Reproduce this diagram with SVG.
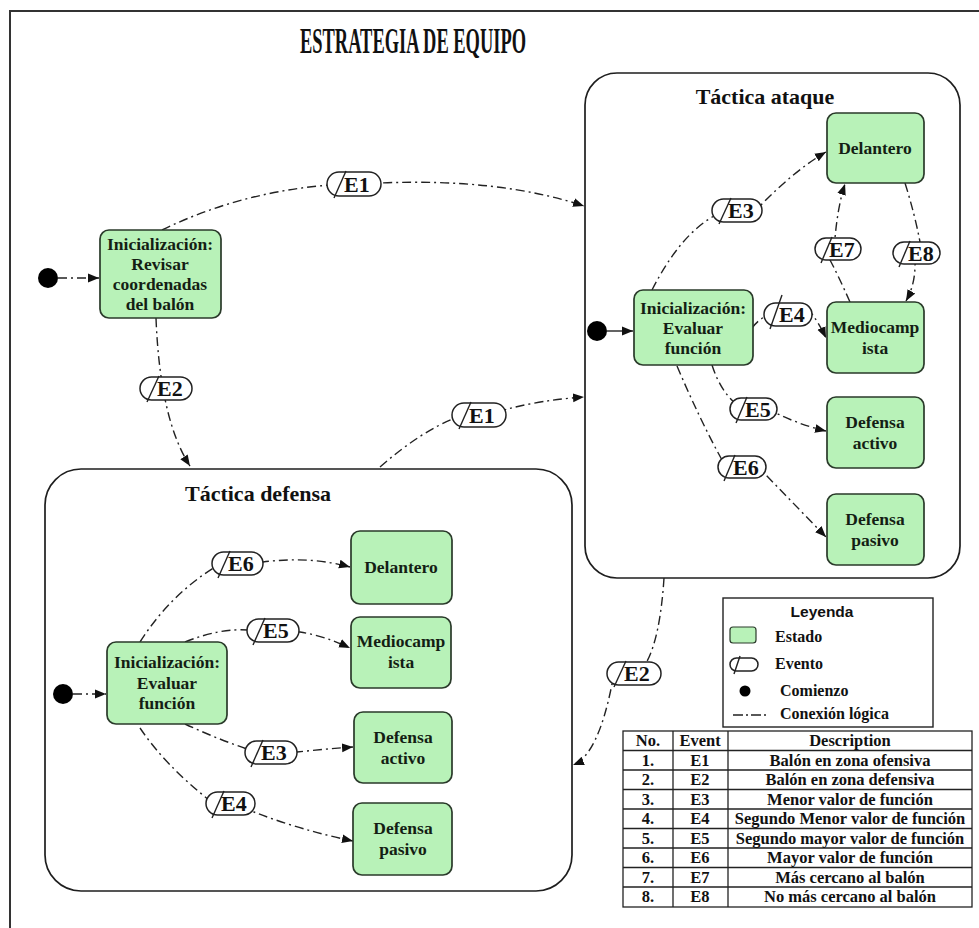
<svg xmlns="http://www.w3.org/2000/svg" width="979" height="928" viewBox="0 0 979 928">
  <style>
    .frame { fill: none; stroke: #333; stroke-width: 2; }
    .box { fill: #fff; stroke: #1e1e1e; stroke-width: 1.7; }
    .state { fill: #b8f2b8; stroke: #2a3a2a; stroke-width: 1.7; }
    .st { font-family: "Liberation Serif", serif; font-weight: bold; font-size: 17.5px; fill: #141e14; text-anchor: middle; }
    .title { font-family: "Liberation Serif", serif; font-weight: bold; font-size: 36px; fill: #111; text-anchor: middle; }
    .ctitle { font-family: "Liberation Serif", serif; font-weight: bold; font-size: 22px; fill: #111; text-anchor: middle; }
    .conn { fill: none; stroke: #222; stroke-width: 1.4; stroke-dasharray: 9 4 2 4; }
    .solid { fill: none; stroke: #222; stroke-width: 1.4; }
    .ev rect { fill: #fff; stroke: #222; stroke-width: 1.5; }
    .ev line { stroke: #222; stroke-width: 1.4; }
    .ev text { font-family: "Liberation Serif", serif; font-weight: bold; font-size: 22px; fill: #111; }
    .dot { fill: #000; }
    .lg { font-family: "Liberation Serif", serif; font-weight: bold; font-size: 16px; fill: #111; }
    .lgh { font-family: "Liberation Sans", sans-serif; font-weight: bold; font-size: 15.5px; fill: #111; text-anchor: middle; }
    .tb { font-family: "Liberation Serif", serif; font-weight: bold; font-size: 16.5px; fill: #111; text-anchor: middle; }
    .grid { fill: none; stroke: #222; stroke-width: 1.3; }
  </style>
  <defs>
    <marker id="arrow" viewBox="0 0 10 10" refX="10" refY="5" markerWidth="11" markerHeight="11" markerUnits="userSpaceOnUse" orient="auto">
      <path d="M0,1 L10,5 L0,9 z" fill="#111"/>
    </marker>
  </defs>

  <rect width="979" height="928" fill="#fff"/>
  <!-- page frame -->
  <path class="frame" d="M10,940 L10,11 L990,11"/>

  <text class="title" x="413" y="53" textLength="226" lengthAdjust="spacingAndGlyphs">ESTRATEGIA DE EQUIPO</text>

  <!-- composite states -->
  <g id="tactica-ataque">
    <rect class="box" x="585" y="73" width="375" height="505" rx="32"/>
    <text class="ctitle" x="765" y="104">Táctica ataque</text>
  </g>
  <g id="tactica-defensa">
    <rect class="box" x="45" y="469" width="527" height="422" rx="36"/>
    <text class="ctitle" x="258" y="501">Táctica defensa</text>
  </g>

  <!-- connectors -->
  <g id="connectors">
    <path class="conn" d="M58,278 L99,278" marker-end="url(#arrow)"/>
    <path class="conn" d="M162,230 Q240,192 330,185 L380,183 Q500,178 584,206" marker-end="url(#arrow)"/>
    <path class="conn" d="M156,318 Q160,420 190,466" marker-end="url(#arrow)"/>
    <path class="conn" d="M380,467 Q420,432 455,418 L504,410 Q540,400 584,397" marker-end="url(#arrow)"/>
    <path class="conn" d="M664,578 Q660,640 645,665 L612,684 Q598,755 573,765" marker-end="url(#arrow)"/>

    <!-- inside Táctica ataque -->
    <path class="solid" d="M607,331 L633,331" marker-end="url(#arrow)"/>
    <path class="conn" d="M652,290 Q680,235 714,216 L760,206 Q795,170 826,152" marker-end="url(#arrow)"/>
    <path class="conn" d="M850,302 Q838,275 830,260 L835,238 Q838,205 845,184" marker-end="url(#arrow)"/>
    <path class="conn" d="M905,183 Q915,215 920,242 L915,265 Q915,285 906,301" marker-end="url(#arrow)"/>
    <path class="conn" d="M752,328 Q758,320 766,316 L812,314 Q820,325 826,338" marker-end="url(#arrow)"/>
    <path class="conn" d="M712,365 Q720,390 735,403 L776,413 Q800,425 826,431" marker-end="url(#arrow)"/>
    <path class="conn" d="M677,366 Q700,420 722,460 L765,474 Q795,505 826,537" marker-end="url(#arrow)"/>

    <!-- inside Táctica defensa -->
    <path class="conn" d="M73,694 L106,694" marker-end="url(#arrow)"/>
    <path class="conn" d="M140,642 Q170,595 215,567 L263,562 Q310,556 350,567" marker-end="url(#arrow)"/>
    <path class="conn" d="M185,642 Q220,628 248,630 L300,632 Q325,636 350,648" marker-end="url(#arrow)"/>
    <path class="conn" d="M185,724 Q215,738 247,749 L297,752 Q325,749 353,747" marker-end="url(#arrow)"/>
    <path class="conn" d="M140,728 Q165,765 209,800 L254,812 Q300,830 353,841" marker-end="url(#arrow)"/>
  </g>

  <!-- start points -->
  <circle class="dot" cx="48" cy="278" r="10"/>
  <circle class="dot" cx="597" cy="331" r="10"/>
  <circle class="dot" cx="63" cy="694" r="10"/>

  <!-- states -->
  <g id="init-estrategia">
    <rect class="state" x="100" y="230" width="121" height="88" rx="9"/>
    <text class="st" x="160" y="250">Inicialización:</text>
    <text class="st" x="160" y="270">Revisar</text>
    <text class="st" x="160" y="290">coordenadas</text>
    <text class="st" x="160" y="310">del balón</text>
  </g>

  <g id="ataque-init">
    <rect class="state" x="634" y="290" width="119" height="75" rx="9"/>
    <text class="st" x="693" y="314">Inicialización:</text>
    <text class="st" x="693" y="334">Evaluar</text>
    <text class="st" x="693" y="354">función</text>
  </g>
  <g id="ataque-delantero">
    <rect class="state" x="827" y="113" width="97" height="70" rx="9"/>
    <text class="st" x="875" y="154">Delantero</text>
  </g>
  <g id="ataque-mediocampista">
    <rect class="state" x="827" y="302" width="97" height="71" rx="9"/>
    <text class="st" x="875" y="333">Mediocamp</text>
    <text class="st" x="875" y="354">ista</text>
  </g>
  <g id="ataque-defensa-activo">
    <rect class="state" x="827" y="397" width="97" height="71" rx="9"/>
    <text class="st" x="875" y="428">Defensa</text>
    <text class="st" x="875" y="449">activo</text>
  </g>
  <g id="ataque-defensa-pasivo">
    <rect class="state" x="827" y="494" width="97" height="71" rx="9"/>
    <text class="st" x="875" y="525">Defensa</text>
    <text class="st" x="875" y="546">pasivo</text>
  </g>

  <g id="defensa-init">
    <rect class="state" x="107" y="642" width="120" height="82" rx="9"/>
    <text class="st" x="167" y="668">Inicialización:</text>
    <text class="st" x="167" y="689">Evaluar</text>
    <text class="st" x="167" y="709">función</text>
  </g>
  <g id="defensa-delantero">
    <rect class="state" x="351" y="531" width="101" height="73" rx="9"/>
    <text class="st" x="401" y="573">Delantero</text>
  </g>
  <g id="defensa-mediocampista">
    <rect class="state" x="351" y="617" width="100" height="71" rx="9"/>
    <text class="st" x="401" y="647">Mediocamp</text>
    <text class="st" x="401" y="668">ista</text>
  </g>
  <g id="defensa-defensa-activo">
    <rect class="state" x="354" y="712" width="98" height="71" rx="9"/>
    <text class="st" x="403" y="743">Defensa</text>
    <text class="st" x="403" y="764">activo</text>
  </g>
  <g id="defensa-defensa-pasivo">
    <rect class="state" x="353" y="803" width="99" height="72" rx="9"/>
    <text class="st" x="403" y="834">Defensa</text>
    <text class="st" x="403" y="855">pasivo</text>
  </g>

  <!-- event labels -->
  <g class="ev" id="ev-e1-top" transform="translate(327,172)">
    <rect width="54" height="24" rx="12"/><line x1="7" y1="26" x2="19" y2="-1"/><text x="17" y="20">E1</text>
  </g>
  <g class="ev" id="ev-e2-left" transform="translate(140,377)">
    <rect width="52" height="23" rx="11.5"/><line x1="7" y1="25" x2="19" y2="-1"/><text x="17" y="19">E2</text>
  </g>
  <g class="ev" id="ev-e1-mid" transform="translate(452,403)">
    <rect width="54" height="24" rx="12"/><line x1="7" y1="26" x2="19" y2="-1"/><text x="17" y="20">E1</text>
  </g>
  <g class="ev" id="ev-e2-right" transform="translate(607,662)">
    <rect width="54" height="23" rx="11.5"/><line x1="7" y1="25" x2="19" y2="-1"/><text x="17" y="19">E2</text>
  </g>
  <g class="ev" id="ev-e3-atk" transform="translate(712,199)">
    <rect width="50" height="23" rx="11.5"/><line x1="7" y1="25" x2="19" y2="-1"/><text x="16" y="19">E3</text>
  </g>
  <g class="ev" id="ev-e7" transform="translate(815,238)">
    <rect width="46" height="22" rx="11"/><line x1="6" y1="25" x2="17" y2="-1"/><text x="14" y="18.5">E7</text>
  </g>
  <g class="ev" id="ev-e8" transform="translate(893,242)">
    <rect width="47" height="22" rx="11"/><line x1="6" y1="25" x2="17" y2="-1"/><text x="15" y="18.5">E8</text>
  </g>
  <g class="ev" id="ev-e4-atk" transform="translate(764,303)">
    <rect width="48" height="23" rx="11.5"/><line x1="6" y1="26" x2="18" y2="-8"/><text x="15" y="19">E4</text>
  </g>
  <g class="ev" id="ev-e5-atk" transform="translate(730,398)">
    <rect width="47" height="22" rx="11"/><line x1="6" y1="25" x2="17" y2="-1"/><text x="15" y="18.5">E5</text>
  </g>
  <g class="ev" id="ev-e6-atk" transform="translate(718,456)">
    <rect width="48" height="22" rx="11"/><line x1="6" y1="25" x2="17" y2="-1"/><text x="15" y="18.5">E6</text>
  </g>
  <g class="ev" id="ev-e6-def" transform="translate(212,552)">
    <rect width="51" height="23" rx="11.5"/><line x1="6" y1="26" x2="18" y2="-1"/><text x="16" y="19">E6</text>
  </g>
  <g class="ev" id="ev-e5-def" transform="translate(247,619)">
    <rect width="52" height="23" rx="11.5"/><line x1="6" y1="26" x2="18" y2="-1"/><text x="16" y="19">E5</text>
  </g>
  <g class="ev" id="ev-e3-def" transform="translate(245,741)">
    <rect width="52" height="23" rx="11.5"/><line x1="6" y1="26" x2="18" y2="-1"/><text x="16" y="19">E3</text>
  </g>
  <g class="ev" id="ev-e4-def" transform="translate(206,792)">
    <rect width="49" height="23" rx="11.5"/><line x1="6" y1="26" x2="18" y2="-1"/><text x="15" y="19">E4</text>
  </g>

  <!-- legend -->
  <g id="leyenda">
    <rect x="723" y="598" width="210" height="129" fill="#fff" stroke="#222" stroke-width="1.4"/>
    <text class="lgh" x="822" y="617">Leyenda</text>
    <rect x="730" y="627" width="26" height="16" rx="3" fill="#b8f2b8" stroke="#2a3a2a" stroke-width="1.2"/>
    <text class="lg" x="775" y="642">Estado</text>
    <g class="ev" transform="translate(730,658)">
      <rect width="28" height="13" rx="6.5"/><line x1="4" y1="16" x2="10" y2="-2"/>
    </g>
    <text class="lg" x="775" y="669">Evento</text>
    <circle class="dot" cx="745" cy="691" r="5.5"/>
    <text class="lg" x="780" y="696">Comienzo</text>
    <path class="conn" d="M733,715 L768,715" style="stroke-dasharray:10 3 2 3"/>
    <text class="lg" x="780" y="719">Conexión lógica</text>
  </g>

  <!-- event table -->
  <g id="tabla-eventos">
    <rect class="grid" x="623" y="731" width="349" height="176"/>
    <path class="grid" d="M673,731 V907 M728,731 V907 M623,750.5 H972 M623,770 H972 M623,789.5 H972 M623,809 H972 M623,828.5 H972 M623,848 H972 M623,867.5 H972 M623,887 H972"/>
    <text class="tb" x="648" y="746">No.</text><text class="tb" x="700" y="746">Event</text><text class="tb" x="850" y="746">Description</text>
    <text class="tb" x="648" y="765.5">1.</text><text class="tb" x="700" y="765.5">E1</text><text class="tb" x="850" y="765.5">Balón en zona ofensiva</text>
    <text class="tb" x="648" y="785">2.</text><text class="tb" x="700" y="785">E2</text><text class="tb" x="850" y="785">Balón en zona defensiva</text>
    <text class="tb" x="648" y="804.5">3.</text><text class="tb" x="700" y="804.5">E3</text><text class="tb" x="850" y="804.5">Menor valor de función</text>
    <text class="tb" x="648" y="824">4.</text><text class="tb" x="700" y="824">E4</text><text class="tb" x="850" y="824">Segundo Menor valor de función</text>
    <text class="tb" x="648" y="843.5">5.</text><text class="tb" x="700" y="843.5">E5</text><text class="tb" x="850" y="843.5">Segundo mayor valor de función</text>
    <text class="tb" x="648" y="863">6.</text><text class="tb" x="700" y="863">E6</text><text class="tb" x="850" y="863">Mayor valor de función</text>
    <text class="tb" x="648" y="882.5">7.</text><text class="tb" x="700" y="882.5">E7</text><text class="tb" x="850" y="882.5">Más cercano al balón</text>
    <text class="tb" x="648" y="902">8.</text><text class="tb" x="700" y="902">E8</text><text class="tb" x="850" y="902">No más cercano al balón</text>
  </g>
</svg>
